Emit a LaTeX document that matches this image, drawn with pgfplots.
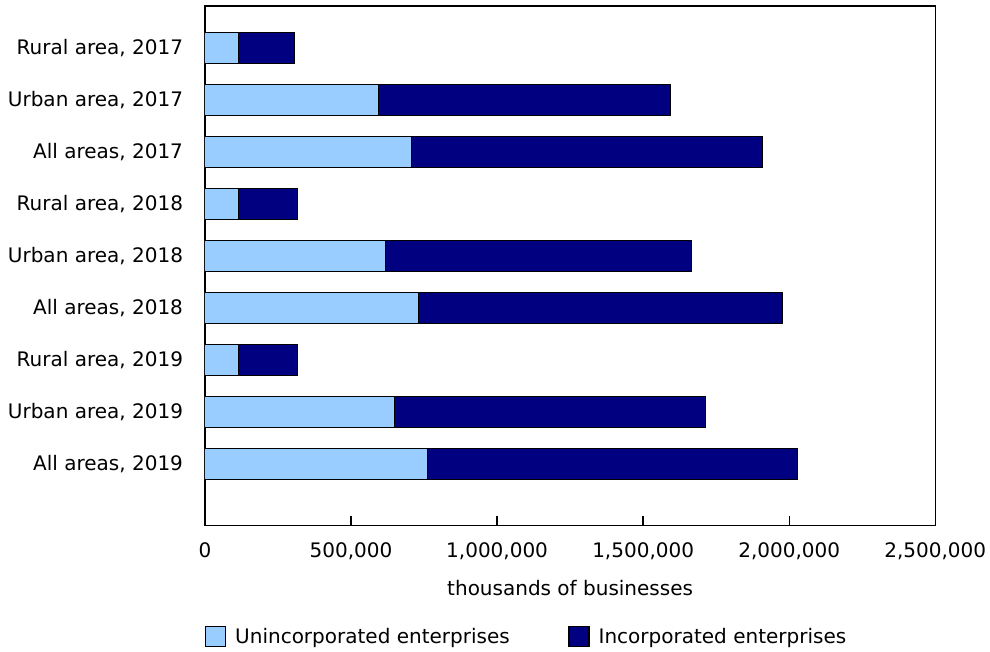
\documentclass[border=0pt]{standalone}
\usepackage{fontspec}
\setmainfont{DejaVu Sans}
\usepackage{pgfplots}
\usepackage{pgfplotstable}
\pgfplotsset{compat=1.18}
\definecolor{lightb}{RGB}{153,204,255}
\definecolor{navyb}{RGB}{0,0,128}
\newcommand{\chartfont}{\fontsize{15}{18}\selectfont}
\pgfplotstableread{
pos uninc inc
0 113000 195000
1 595000 998000
2 706000 1201000
3 116000 199000
4 618000 1047000
5 730000 1248000
6 115000 200000
7 649000 1066000
8 763000 1265000
}\datatable
\begin{document}
\begin{tikzpicture}
\path[use as bounding box] (-153.75pt,-94.275pt) rectangle (588.75pt,393.975pt);
\begin{axis}[
  at={(0pt,0pt)}, anchor=south west,
  scale only axis, width=547.7pt, height=389.5pt,
  xbar stacked, bar width=0.61,
  xmin=0, xmax=2500000, ymin=-0.808, ymax=9.179,
  y dir=reverse,
  axis line style={line width=1pt, black},
  ytick={0,...,8},
  yticklabels={{Rural area, 2017},{Urban area, 2017},{All areas, 2017},{Rural area, 2018},{Urban area, 2018},{All areas, 2018},{Rural area, 2019},{Urban area, 2019},{All areas, 2019}},
  ytick style={draw=none},
  yticklabel style={anchor=east, inner sep=0pt, xshift=-16.3pt, font=\chartfont},
  xtick={0,500000,1000000,1500000,2000000,2500000},
  xtick pos=bottom, tick align=inside, major tick length=6.75pt,
  xtick style={line width=1pt, black},
  scaled x ticks=false,
  /pgf/number format/assume math mode=true,
  xticklabel style={anchor=base, inner sep=0pt, yshift=-23.8pt, font=\chartfont,
    /pgf/number format/.cd, fixed, 1000 sep={,}},
  xlabel={thousands of businesses},
  every axis x label/.style={at={(axis description cs:0.5,0)}, anchor=base, yshift=-52.5pt, font=\chartfont},
  legend style={at={(axis description cs:0,0)}, anchor=west, yshift=-83.5pt,
    draw=none, fill=none, inner sep=0pt, outer sep=0pt, legend columns=2, font=\chartfont,
    nodes={inner sep=0pt},
    cells={anchor=west},
    /tikz/every odd column/.append style={column sep=6.75pt},
    /tikz/every even column/.append style={column sep=44pt}},
]
\addplot[fill=lightb, draw=black, line width=0.75pt,
  legend image code/.code={\draw[fill=lightb, draw=black, line width=0.9pt] (0pt,-7.5pt) rectangle (15pt,7.5pt);}]
  table[x=uninc, y=pos] {\datatable};
\addlegendentry{Unincorporated enterprises}
\addplot[fill=navyb, draw=black, line width=0.75pt,
  legend image code/.code={\draw[fill=navyb, draw=black, line width=0.9pt] (0pt,-7.5pt) rectangle (15pt,7.5pt);}]
  table[x=inc, y=pos] {\datatable};
\addlegendentry{Incorporated enterprises}
\end{axis}
\end{tikzpicture}
\end{document}
